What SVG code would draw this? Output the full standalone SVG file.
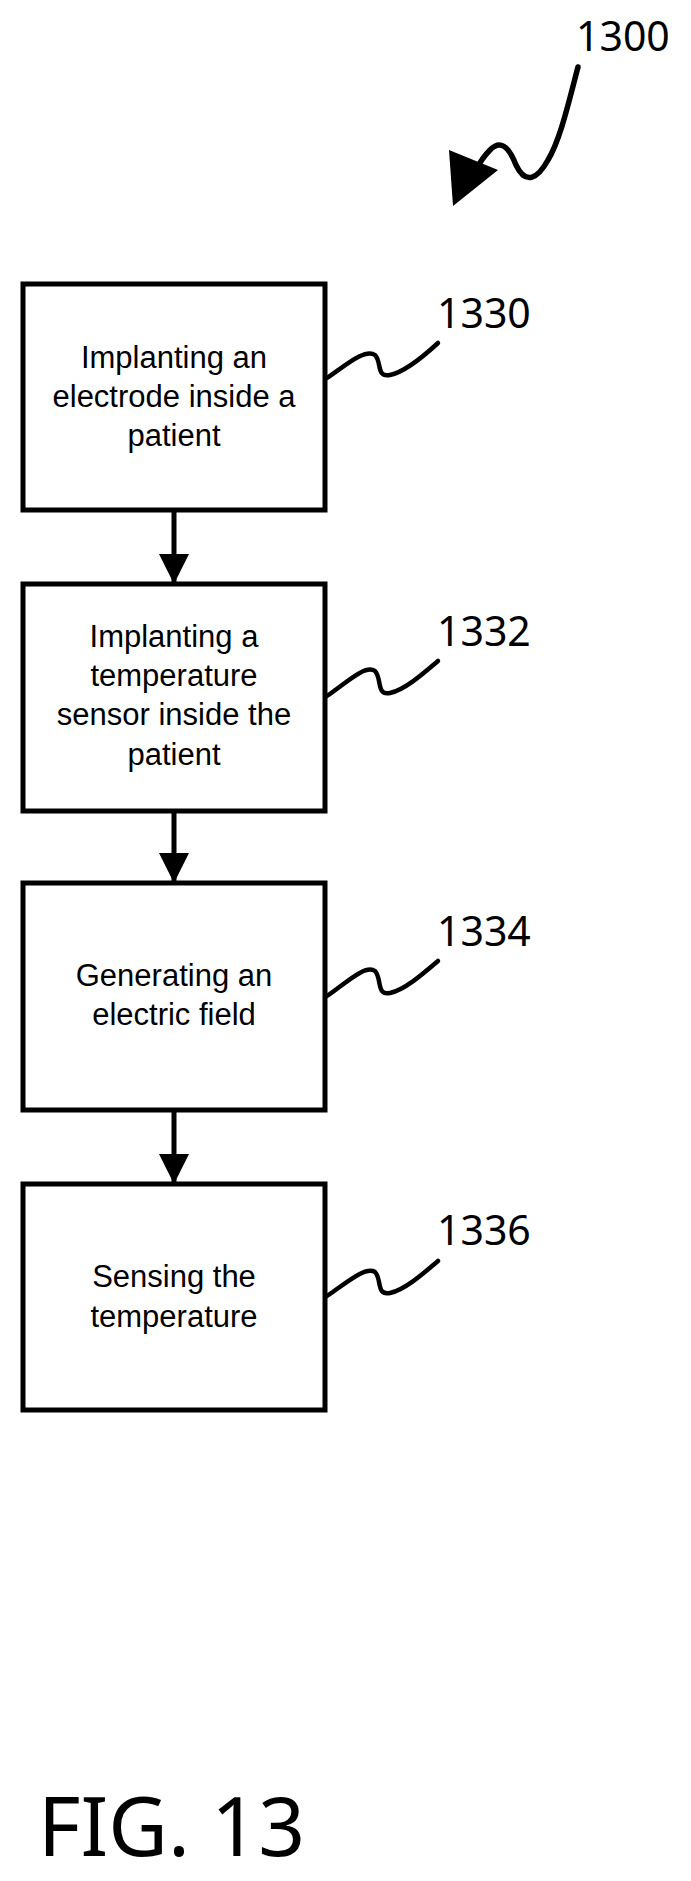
<svg xmlns="http://www.w3.org/2000/svg" width="691" height="1881" viewBox="0 0 691 1881">
<style>
.box{fill:#fff;stroke:#000;stroke-width:5}
.t{font-family:"Liberation Sans",Arial,sans-serif;font-size:31px;text-anchor:middle;fill:#000}
.ref{font-family:"Noto Sans","Open Sans",sans-serif;font-size:41px;fill:#000}
.lead{fill:none;stroke:#000;stroke-width:4.5;stroke-linecap:round}
.conn{stroke:#000;stroke-width:5}
</style>
<defs>
<marker id="ah" markerUnits="userSpaceOnUse" markerWidth="30" markerHeight="30" refX="30" refY="15" orient="auto">
<path d="M0,0 L30,15 L0,30 Z" fill="#000"/>
</marker>
</defs>
<rect width="691" height="1881" fill="#fff"/>
<g id="n1330">
<rect class="box" x="23" y="284" width="302" height="226"/>
<text class="t" x="174" y="368">Implanting an</text>
<text class="t" x="174" y="407">electrode inside a</text>
<text class="t" x="174" y="446">patient</text>
<path class="lead" d="M327,378 C345,366 365,348 375,355 C382,362 376,378 390,375 C405,372 425,355 438,343"/>
<text class="ref" x="437" y="328">1330</text>
</g>
<g id="n1332">
<rect class="box" x="23" y="584" width="302" height="227"/>
<text class="t" x="174" y="647">Implanting a</text>
<text class="t" x="174" y="686">temperature</text>
<text class="t" x="174" y="725">sensor inside the</text>
<text class="t" x="174" y="765">patient</text>
<path class="lead" d="M327,696 C345,684 365,664 375,671 C382,678 376,696 390,693 C405,690 425,672 438,661"/>
<text class="ref" x="437" y="646">1332</text>
</g>
<g id="n1334">
<rect class="box" x="23" y="883" width="302" height="227"/>
<text class="t" x="174" y="986">Generating an</text>
<text class="t" x="174" y="1025">electric field</text>
<path class="lead" d="M327,996 C345,984 365,964 375,971 C382,978 376,996 390,993 C405,990 425,972 438,961"/>
<text class="ref" x="437" y="946">1334</text>
</g>
<g id="n1336">
<rect class="box" x="23" y="1184" width="302" height="226"/>
<text class="t" x="174" y="1287">Sensing the</text>
<text class="t" x="174" y="1327">temperature</text>
<path class="lead" d="M327,1296 C345,1284 365,1266 375,1272 C382,1279 376,1296 390,1293 C405,1290 425,1272 438,1261"/>
<text class="ref" x="437" y="1245">1336</text>
</g>
<g id="n1300">
<text class="ref" x="576" y="51">1300</text>
<path class="lead" d="M578,67 C568,105 560,140 548,160 C538,178 526,186 516,165 C508,145 500,140 490,150 C484,156 480,162 476,170" style="stroke-width:5.5"/>
<path d="M449,150 L453,206 L498,170 Z" fill="#000"/>
</g>
<g id="connectors">
<line class="conn" x1="174" y1="510" x2="174" y2="584" marker-end="url(#ah)"/>
<line class="conn" x1="174" y1="811" x2="174" y2="883" marker-end="url(#ah)"/>
<line class="conn" x1="174" y1="1110" x2="174" y2="1184" marker-end="url(#ah)"/>
</g>
<text x="38" y="1856" style="font-family:'Noto Sans','Open Sans',sans-serif;font-size:82px;fill:#000">FIG. 13</text>
</svg>
